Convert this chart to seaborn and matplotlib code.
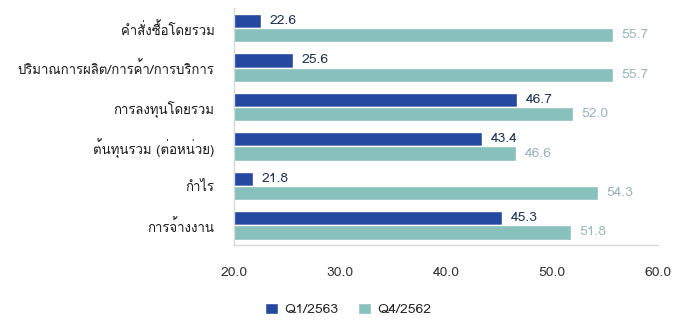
import matplotlib

matplotlib.use("Agg")
import matplotlib.pyplot as plt
import pandas as pd
import seaborn as sns
from matplotlib import font_manager
from matplotlib.ft2font import FT2Font

categories = [
    "คำสั่งซื้อโดยรวม",
    "ปริมาณการผลิต/การค้า/การบริการ",
    "การลงทุนโดยรวม",
    "ต้นทุนรวม (ต่อหน่วย)",
    "กำไร",
    "การจ้างงาน",
]
q1_2563 = [22.6, 25.6, 46.7, 43.4, 21.8, 45.3]
q4_2562 = [55.7, 55.7, 52.0, 46.6, 54.3, 51.8]
series_names = ["Q1/2563", "Q4/2562"]
x_ticks = [20, 30, 40, 50, 60]

DARK = "#2548a0"
TEAL = "#88c0bb"


def find_thai_font():
    # look for any installed font that has Thai glyphs
    for f in font_manager.fontManager.ttflist:
        try:
            cmap = FT2Font(f.fname).get_charmap()
        except Exception:
            continue
        if 0x0E01 in cmap and 0x0E33 in cmap:
            return f.name
    return None


sns.set_theme(style="white")
thai = find_thai_font()
families = ([thai] if thai else []) + ["DejaVu Sans"]
plt.rcParams["font.family"] = families

df = pd.DataFrame({"category": categories * 2,
                   "value": q1_2563 + q4_2562,
                   "series": [series_names[0]] * 6 + [series_names[1]] * 6})

fig, ax = plt.subplots(figsize=(6.9, 3.2), dpi=100)
fig.subplots_adjust(left=0.339, right=0.954, top=0.974, bottom=0.234)

sns.barplot(data=df, x="value", y="category", hue="series",
            palette=[DARK, TEAL], width=0.72, saturation=1,
            orient="h", ax=ax)

ax.set_xlim(20, 60)
ax.set_xticks(x_ticks)
ax.set_xticklabels([f"{t:.1f}" for t in x_ticks], fontsize=10, color="#333333")
ax.tick_params(axis="x", length=0, pad=16)
ax.tick_params(axis="y", length=0, pad=14, labelsize=9.5, labelcolor="#1a1a1a")
ax.set_xlabel("")
ax.set_ylabel("")

for side in ["top", "right"]:
    ax.spines[side].set_visible(False)
for side in ["left", "bottom"]:
    ax.spines[side].set_color("#d9d9d9")
    ax.spines[side].set_linewidth(1)

label_colors = ["#1f3556", "#9ab6bf"]
for cont, col in zip(ax.containers, label_colors):
    ax.bar_label(cont, fmt="%.1f", padding=6, fontsize=10, color=col)

ax.legend(loc="upper center", bbox_to_anchor=(0.27, -0.19), ncol=2,
          frameon=False, fontsize=10, handlelength=0.9, handleheight=0.9,
          handletextpad=0.5, columnspacing=1.4)

plt.savefig("out.png", dpi=100)
plt.close()
